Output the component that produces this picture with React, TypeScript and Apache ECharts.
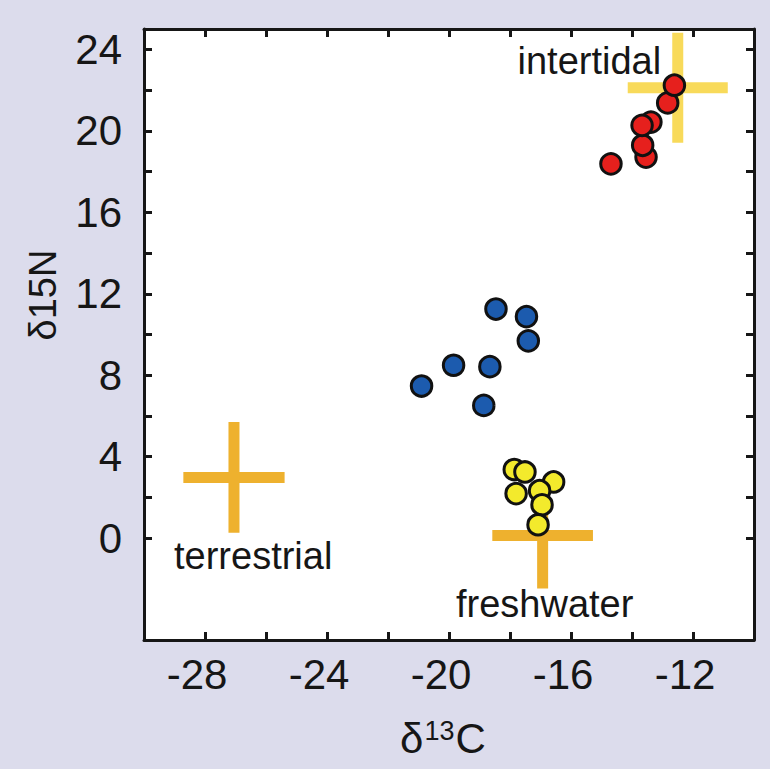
import React, { useEffect, useRef } from "react";
import * as echarts from "echarts";

// Axis ticks and labels
const xTickValues = [-28, -26, -24, -22, -20, -18, -16, -14, -12];
const xLabelValues = [-28, -24, -20, -16, -12];
const yTickValues = [0, 2, 4, 6, 8, 10, 12, 14, 16, 18, 20, 22, 24];
const yLabelValues = [0, 4, 8, 12, 16, 20, 24];

// Red group (near intertidal source)
const redX = [-14.69, -13.54, -13.65, -13.38, -13.67, -12.83, -12.61];
const redY = [18.38, 18.71, 19.29, 20.43, 20.27, 21.37, 22.24];

// Blue group
const blueX = [-18.46, -17.46, -17.4, -19.85, -18.66, -20.9, -18.86];
const blueY = [11.25, 10.88, 9.69, 8.49, 8.42, 7.47, 6.52];

// Yellow group (near freshwater source)
const yellowX = [-17.86, -17.51, -16.57, -17.8, -17.03, -16.95, -17.08];
const yellowY = [3.37, 3.25, 2.76, 2.19, 2.33, 1.64, 0.66];

// Source end-members (mean ± spread)
const sourceNames = ["terrestrial", "freshwater", "intertidal"];
const sourceX = [-27.05, -16.93, -12.5];
const sourceY = [2.98, 0.13, 22.12];
const sourceSdX = [1.66, 1.65, 1.64];
const sourceSdY = [2.72, 2.6, 2.7];
const sourceColors = ["#EEB12E", "#EEB12E", "#F8DA5A"];

const FONT = "'Liberation Sans', Arial, Helvetica, sans-serif";
const INK = "#161616";

function zip(xs: number[], ys: number[]) {
  return xs.map((x, i) => [x, ys[i]]);
}

export default function App() {
  const ref = useRef<HTMLDivElement>(null);

  useEffect(() => {
    document.body.style.margin = "0";
    const chart = echarts.init(ref.current!, undefined, { renderer: "svg" });

    const axisLine = { show: true, onZero: false, lineStyle: { color: INK, width: 3 } };
    const xTick = {
      show: true,
      inside: true,
      length: 8,
      customValues: xTickValues,
      lineStyle: { color: INK, width: 3 },
    };
    const yTick = {
      show: true,
      inside: true,
      length: 8,
      customValues: yTickValues,
      lineStyle: { color: INK, width: 3 },
    };

    const pointStyle = (color: string) => ({
      color,
      borderColor: "#111",
      borderWidth: 3,
      opacity: 1,
    });

    const option: any = {
      animation: false,
      backgroundColor: "#DCDCEC",
      grid: {
        left: 144,
        right: 16,
        top: 29,
        bottom: 129,
        show: true,
        backgroundColor: "#ffffff",
        borderWidth: 0,
      },
      xAxis: [
        {
          type: "value",
          min: -30,
          max: -10,
          position: "bottom",
          axisLine,
          axisTick: xTick,
          splitLine: { show: false },
          axisLabel: {
            customValues: xLabelValues,
            fontSize: 42,
            fontFamily: FONT,
            color: INK,
            margin: 13,
            padding: [0, 16, 0, 0],
          },
        },
        {
          type: "value",
          min: -30,
          max: -10,
          position: "top",
          axisLine,
          axisTick: xTick,
          splitLine: { show: false },
          axisLabel: { show: false },
        },
      ],
      yAxis: [
        {
          type: "value",
          min: -5,
          max: 25,
          position: "left",
          axisLine,
          axisTick: yTick,
          splitLine: { show: false },
          axisLabel: {
            customValues: yLabelValues,
            fontSize: 42,
            fontFamily: FONT,
            color: INK,
            margin: 22,
          },
        },
        {
          type: "value",
          min: -5,
          max: 25,
          position: "right",
          axisLine,
          axisTick: yTick,
          splitLine: { show: false },
          axisLabel: { show: false },
        },
      ],
      series: [
        {
          type: "custom",
          name: "sources",
          xAxisIndex: 0,
          yAxisIndex: 0,
          z: 1,
          encode: { x: 0, y: 1 },
          data: sourceNames.map((n, i) => ({
            name: n,
            value: [sourceX[i], sourceY[i], sourceSdX[i], sourceSdY[i]],
          })),
          renderItem: (params: any, api: any) => {
            const x = api.value(0);
            const y = api.value(1);
            const sx = api.value(2);
            const sy = api.value(3);
            const l = api.coord([x - sx, y]);
            const r = api.coord([x + sx, y]);
            const t = api.coord([x, y + sy]);
            const b = api.coord([x, y - sy]);
            const color = sourceColors[params.dataIndex];
            return {
              type: "group",
              children: [
                {
                  type: "line",
                  shape: { x1: l[0], y1: l[1], x2: r[0], y2: r[1] },
                  style: { stroke: color, lineWidth: 11, lineCap: "butt" },
                },
                {
                  type: "line",
                  shape: { x1: t[0], y1: t[1], x2: b[0], y2: b[1] },
                  style: { stroke: color, lineWidth: 11, lineCap: "butt" },
                },
              ],
            };
          },
        },
        {
          type: "scatter",
          name: "red",
          z: 3,
          symbolSize: 20.5,
          itemStyle: pointStyle("#E6201D"),
          data: zip(redX, redY),
        },
        {
          type: "scatter",
          name: "blue",
          z: 3,
          symbolSize: 20.5,
          itemStyle: pointStyle("#1C5BAE"),
          data: zip(blueX, blueY),
        },
        {
          type: "scatter",
          name: "yellow",
          z: 3,
          symbolSize: 20.5,
          itemStyle: pointStyle("#F3EA2C"),
          data: zip(yellowX, yellowY),
        },
      ],
      graphic: [
        {
          type: "text",
          x: 517.5,
          y: 60.8,
          z: 10,
          style: {
            text: "intertidal",
            fontSize: 38,
            fontFamily: FONT,
            fill: INK,
            align: "left",
            verticalAlign: "middle",
          },
        },
        {
          type: "text",
          x: 174,
          y: 555.8,
          z: 10,
          style: {
            text: "terrestrial",
            fontSize: 38,
            fontFamily: FONT,
            fill: INK,
            align: "left",
            verticalAlign: "middle",
          },
        },
        {
          type: "text",
          x: 456,
          y: 604,
          z: 10,
          style: {
            text: "freshwater",
            fontSize: 38,
            fontFamily: FONT,
            fill: INK,
            align: "left",
            verticalAlign: "middle",
          },
        },
        {
          type: "text",
          x: 43,
          y: 295,
          rotation: Math.PI / 2,
          z: 10,
          style: {
            text: "δ15N",
            fontSize: 38,
            fontFamily: FONT,
            fill: INK,
            align: "center",
            verticalAlign: "middle",
          },
        },
        {
          type: "text",
          x: 400,
          y: 738,
          z: 10,
          style: {
            text: "{a|δ}{b|13}{a|C}",
            fontFamily: FONT,
            fill: INK,
            align: "left",
            verticalAlign: "middle",
            rich: {
              a: { fontSize: 42, fontFamily: FONT, fill: INK },
              b: { fontSize: 27, fontFamily: FONT, fill: INK, verticalAlign: "top", padding: [0, 1, 0, 1] },
            },
          },
        },
      ],
    };

    chart.setOption(option);
    return () => chart.dispose();
  }, []);

  return (
    <div
      ref={ref}
      style={{ position: "absolute", left: 0, top: 0, width: 770, height: 769 }}
    />
  );
}
